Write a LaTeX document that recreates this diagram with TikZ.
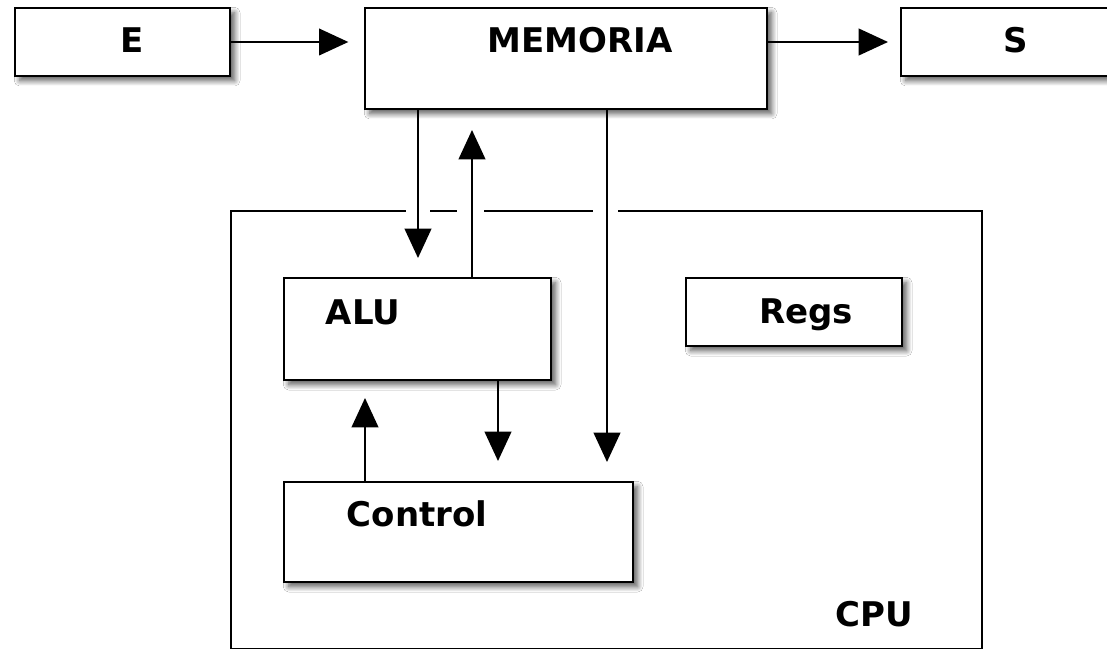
\documentclass[tikz,border=0pt]{standalone}
\usepackage{fontspec}
\setmainfont{DejaVu Sans}
\usetikzlibrary{arrows.meta,shadows.blur}
\begin{document}
\begin{tikzpicture}[x=0.75pt,y=-0.75pt,
  box/.style={draw=black, line width=1.9pt, fill=white, rectangle, inner sep=0pt, outer sep=0pt,
    blur shadow={shadow xshift=3.5pt, shadow yshift=-3.5pt, shadow blur radius=4pt, shadow opacity=65, shadow blur steps=10}},
  cpubox/.style={draw=black, line width=1.7pt, fill=white, rectangle, inner sep=0pt, outer sep=0pt},
  lbl/.style={anchor=base, font=\bfseries\fontsize{25.5}{30}\selectfont, inner sep=0pt},
  arr/.style={line width=1.5pt, -{Triangle[length=22pt,width=20pt]}},
]
\useasboundingbox (0,0) rectangle (1107,649);
\clip (0,0) rectangle (1107,649);
\fill[white] (0,0) rectangle (1107,649);

% CPU container
\node[cpubox, minimum width=751*0.75pt, minimum height=438*0.75pt] (cpu) at (606.5,430) {};
% gaps in the CPU top border where connectors cross
\fill[white] (406,204) rectangle (430,218);
\fill[white] (457,204) rectangle (484,218);
\fill[white] (593,204) rectangle (618,218);

% boxes
\node[box, minimum width=215*0.75pt, minimum height=68*0.75pt] (E) at (122.5,42) {};
\node[box, minimum width=402*0.75pt, minimum height=101*0.75pt] (mem) at (566,58.5) {};
\node[box, minimum width=219*0.75pt, minimum height=68*0.75pt] (S) at (1010.5,42) {};
\node[box, minimum width=267*0.75pt, minimum height=102*0.75pt] (alu) at (417.5,329) {};
\node[box, minimum width=216*0.75pt, minimum height=68*0.75pt] (regs) at (794,312) {};
\node[box, minimum width=349*0.75pt, minimum height=100*0.75pt] (ctl) at (458.5,532) {};

% labels
\node[lbl] (tE) at (132,53) {E};
\node[lbl] (tmem) at (580,53) {MEMORIA};
\node[lbl] (tS) at (1016,53) {S};
\node[lbl] (talu) at (363,324) {ALU};
\node[lbl] (tregs) at (806,323) {Regs};
\node[lbl] (tctl) at (417,526) {Control};
\node[lbl] (tcpu) at (874,626) {CPU};

% connector columns
\coordinate (c1) at (418,0);
\coordinate (c2) at (472,0);
\coordinate (c3) at (607,0);
\coordinate (c4) at (498,0);
\coordinate (c5) at (365,0);

% connectors
\draw[arr, shorten >=12.5pt] (E.east) -- (E.east -| mem.west);
\draw[arr, shorten >=9.75pt] (mem.east |- S.west) -- (S.west);
\draw[arr, shorten >=15pt] (c1 |- mem.south) -- (c1 |- alu.north);
\draw[arr, shorten >=15.75pt] (c2 |- alu.north) -- (c2 |- mem.south);
\draw[arr, shorten >=15pt] (c3 |- mem.south) -- (c3 |- ctl.north);
\draw[arr, shorten >=15.75pt] (c4 |- alu.south) -- (c4 |- ctl.north);
\draw[arr, shorten >=13.5pt] (c5 |- ctl.north) -- (c5 |- alu.south);
\end{tikzpicture}
\end{document}
